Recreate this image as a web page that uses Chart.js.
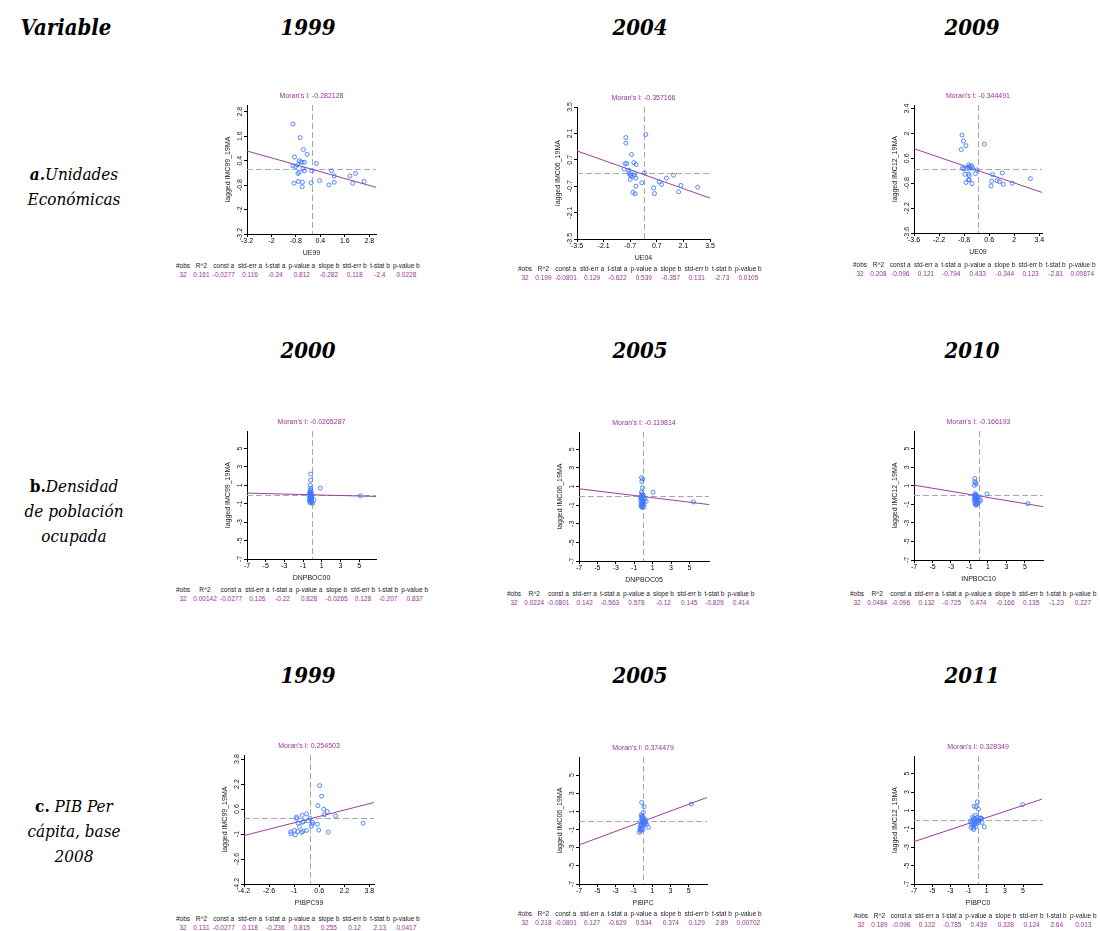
<!DOCTYPE html>
<html>
<head>
<meta charset="utf-8">
<script src="https://cdn.jsdelivr.net/npm/chart.js@4.4.1/dist/chart.umd.min.js"></script>
<style>
  body { margin: 0; background: #fff; width: 1100px; height: 931px; position: relative; overflow: hidden; font-family: "Liberation Sans", Arial, sans-serif; }
  .hd { position: absolute; font-family: "DejaVu Serif Condensed", "DejaVu Serif", serif; font-stretch: condensed; font-weight: bold; font-style: italic; font-size: 22px; transform: translate(-50%, -50%); white-space: nowrap; color: #000; }
  .rl { position: absolute; left: 18px; width: 112px; text-align: center; font-family: "DejaVu Serif Condensed", "DejaVu Serif", serif; font-stretch: condensed; font-style: italic; font-size: 17px; line-height: 25px; color: #000; }
  .rl b.up { font-style: normal; }
  canvas { position: absolute; }
  table.st { position: absolute; border-collapse: collapse; font-size: 6.5px; line-height: 9px; }
  table.st td { padding: 0 1.6px; text-align: center; white-space: nowrap; }
  table.st tr.h td { color: #222; }
  table.st tr.v td { color: #993399; }
</style>
</head>
<body>
<script>
// column / row headings
const colTitle = "Variable";
const rowYears = [["1999", "2004", "2009"], ["2000", "2005", "2010"], ["1999", "2005", "2011"]];

// regression table
const statsHeader = ["#obs", "R^2", "const a", "std-err a", "t-stat a", "p-value a", "slope b", "std-err b", "t-stat b", "p-value b"];
const ue99Stats  = ["32", "0.161", "-0.0277", "0.116", "-0.24", "0.812", "-0.282", "0.118", "-2.4", "0.0228"];
const ue04Stats  = ["32", "0.199", "-0.0801", "0.129", "-0.622", "0.539", "-0.357", "0.131", "-2.73", "0.0105"];
const ue09Stats  = ["32", "0.208", "-0.096", "0.121", "-0.794", "0.433", "-0.344", "0.123", "-2.81", "0.00874"];
const dn00Stats  = ["32", "0.00142", "-0.0277", "0.126", "-0.22", "0.828", "-0.0265", "0.128", "-0.207", "0.837"];
const dn05Stats  = ["32", "0.0224", "-0.0801", "0.142", "-0.563", "0.578", "-0.12", "0.145", "-0.829", "0.414"];
const dn10Stats  = ["32", "0.0484", "-0.096", "0.132", "-0.725", "0.474", "-0.166", "0.135", "-1.23", "0.227"];
const pib99Stats = ["32", "0.131", "-0.0277", "0.118", "-0.236", "0.815", "0.255", "0.12", "2.13", "0.0417"];
const pib05Stats = ["32", "0.218", "-0.0801", "0.127", "-0.629", "0.534", "0.374", "0.129", "2.89", "0.00702"];
const pib11Stats = ["32", "0.189", "-0.096", "0.122", "-0.785", "0.439", "0.328", "0.124", "2.64", "0.013"];

const moranI = ["-0.282128", "-0.357166", "-0.344491", "-0.0265287", "-0.119814", "-0.166193", "0.254503", "0.374479", "0.328349"];
const xLabels = ["UE99", "UE04", "UE09", "DNPBOC00", "DNPBOC05", "INPBOC10", "PIBPC99", "PIBPC", "PIBPC0"];
const yLabels = ["lagged IMC99_19MA", "lagged IMC06_19MA", "lagged IMC12_19MA"];

// tick values
const ticksUE99 = [-3.2, -2, -0.8, 0.4, 1.6, 2.8];
const ticksUE04 = [-3.5, -2.1, -0.7, 0.7, 2.1, 3.5];
const ticksUE09 = [-3.6, -2.2, -0.8, 0.6, 2, 3.4];
const ticksWide = [-7, -5, -3, -1, 1, 3, 5];
const ticksPIB99 = [-4.2, -2.6, -1, 0.6, 2.2, 3.8];

// standardized variable (x) and its spatial lag (y), 32 municipalities each
const ue99X = [-0.95, -0.59, -0.43, -0.25, -0.87, -0.64, -0.56, -0.49, -0.38, -0.72, -0.94, -0.81, 0.21, -0.45, -0.38, -0.02, -0.64, -0.70, 0.95, 1.08, 1.85, 2.13, 0.36, -0.68, -0.48, -0.89, -0.05, 1.08, 1.99, 2.55, 0.82, -0.49];
const ue99Y = [2.20, 1.53, 0.94, 0.71, 0.58, 0.40, 0.34, 0.32, 0.32, 0.19, 0.14, 0.11, 0.26, 0.00, -0.10, -0.10, -0.17, -0.23, -0.10, -0.35, -0.35, -0.23, -0.58, -0.62, -0.66, -0.71, -0.69, -0.66, -0.71, -0.62, -0.79, -0.88];

const ue04X = [-0.93, -0.93, 0.12, -0.63, -0.51, -0.39, -0.97, -0.88, -1.02, -0.77, -0.76, -0.67, -0.46, -0.49, -0.40, -0.70, -0.09, 0.05, -0.40, -0.55, -0.44, 0.53, 0.58, 0.83, 0.95, 1.21, 1.58, 1.97, 1.85, 2.85, -0.72, -0.62];
const ue04Y = [1.88, 1.58, 2.04, 0.98, 0.55, 0.45, 0.50, 0.50, 0.20, 0.15, 0.01, -0.12, -0.01, -0.12, -0.27, -0.34, -0.52, 0.01, -0.70, -1.03, -1.10, -0.79, -1.09, -0.47, -0.61, -0.27, -0.12, -0.66, -1.00, -0.75, -0.08, -0.20];

const ue09X = [-0.92, -0.84, -0.70, -0.96, 0.33, -0.90, -0.81, -0.55, -0.45, -0.38, -0.55, -0.49, -0.08, -0.75, -0.55, -0.51, -0.17, -0.57, -0.51, -0.70, -0.36, 0.79, 0.74, 1.04, 1.17, 1.33, 1.39, 0.70, 1.89, 2.90, -0.66, -0.32];
const ue09Y = [1.91, 1.57, 1.31, 1.09, 1.40, 0.04, 0.00, 0.23, 0.15, 0.19, 0.10, 0.04, -0.05, -0.30, -0.28, -0.37, -0.26, -0.61, -0.61, -0.76, -0.82, -0.31, -0.69, -0.65, -0.71, -0.22, -0.86, -0.95, -0.80, -0.54, 0.04, 0.04];

const dn00X = [-0.19, -0.19, -0.23, -0.19, 0.84, -0.23, -0.19, -0.23, -0.19, -0.23, -0.16, -0.27, -0.05, 0.02, 0.16, -0.12, -0.09, -0.27, -0.34, -0.20, 5.14, -0.15, -0.28, -0.10, -0.31, -0.08, -0.25, -0.17, -0.12, -0.30, -0.06, -0.22];
const dn00Y = [2.22, 1.57, 1.02, 0.66, 0.70, 0.41, 0.19, 0.01, -0.17, -0.35, -0.53, -0.71, -0.82, -0.96, -0.60, -0.35, 0.05, -0.06, -0.60, -0.78, -0.13, 0.30, 0.12, -0.22, -0.28, -0.48, -0.90, 0.50, -0.65, 0.20, -0.15, -0.42];

const dn05X = [-0.21, -0.06, -0.17, -0.10, 1.06, 5.43, -0.20, -0.12, -0.25, -0.05, -0.18, 0.00, -0.22, -0.10, -0.28, 0.05, -0.15, -0.24, -0.08, -0.19, 0.02, -0.27, -0.12, -0.21, 0.08, -0.16, -0.05, 0.15, 0.30, -0.30, -0.02, -0.15];
const dn05Y = [1.96, 1.81, 1.53, 0.88, 0.38, -0.66, 0.40, 0.20, 0.05, -0.05, -0.15, -0.25, -0.32, -0.40, -0.50, -0.55, -0.62, -0.72, -0.80, -0.88, -0.95, -1.00, -1.08, -1.15, -1.20, -1.25, -0.70, -0.35, -0.60, -0.20, 0.10, -1.00];

const dn10X = [-0.42, -0.35, -0.28, -0.49, -0.42, 0.88, 5.32, -0.40, -0.30, -0.45, -0.35, -0.25, -0.42, -0.30, -0.20, -0.38, -0.10, -0.28, -0.45, -0.15, -0.33, -0.05, -0.40, -0.22, -0.30, 0.10, 0.20, -0.12, -0.50, -0.35, -0.18, -0.26];
const dn10Y = [1.79, 1.32, 1.18, 1.04, 1.43, 0.11, -0.93, 0.15, 0.05, -0.05, -0.12, -0.20, -0.28, -0.35, -0.42, -0.50, -0.55, -0.62, -0.70, -0.75, -0.82, -0.88, -0.95, -1.02, -1.10, -0.50, -0.60, -0.30, -0.40, -0.05, -0.90, 0.00];

const pib99X = [0.63, 0.76, 0.52, 0.89, 1.12, 0.93, 1.65, 3.40, 1.18, 0.57, 0.48, 0.16, 0.01, 0.10, -0.20, -0.48, -0.84, -0.84, -0.75, -0.65, -0.46, -0.39, -0.43, -0.22, -0.52, -0.97, -1.22, -1.20, -0.92, -0.77, 0.18, -0.09];
const pib99Y = [2.10, 1.42, 0.82, 0.59, 0.44, 0.23, 0.16, -0.31, -0.88, -0.75, -0.37, -0.37, 0.01, -0.50, 0.29, 0.20, 0.08, -0.01, -0.31, -0.52, -0.24, -0.20, -0.82, -0.77, -0.90, -0.77, -0.86, -0.99, -1.05, -0.84, -0.24, -0.16];

const pib05X = [-0.15, 0.11, 0.03, 5.29, -0.07, -0.15, 0.22, 0.32, 0.58, 0.40, -0.33, -0.26, -0.40, 0.03, -0.18, -0.04, 0.14, -0.07, 0.25, -0.29, -0.20, -0.10, 0.05, -0.25, 0.10, -0.12, 0.00, -0.22, 0.18, -0.30, 0.30, -0.05];
const pib05Y = [1.99, 1.51, 0.89, 1.81, 0.49, 0.34, 0.16, -0.03, -0.76, -0.43, -0.94, -1.17, -1.31, -0.21, -0.39, -0.58, -0.32, -0.06, -0.21, -0.69, 0.60, 0.20, 0.05, -0.10, -0.45, -0.80, -1.00, -0.55, -0.10, -1.05, -0.25, 0.40];

const pib11X = [-0.03, -0.39, -0.17, 0.08, 4.96, 0.74, -0.47, -0.32, -0.06, 0.27, 0.45, -0.54, -0.28, -0.10, -0.65, -0.39, -0.17, -0.47, 0.49, -0.80, 0.05, -0.61, -0.36, -0.10, -0.54, -0.25, 0.12, -0.43, -0.72, 0.23, 0.34, -0.21];
const pib11Y = [1.93, 1.46, 1.39, 1.13, 1.64, -0.78, 0.12, 0.12, 0.23, 0.12, 0.12, -0.17, -0.31, -0.42, -0.60, -0.67, -0.78, -0.89, -0.31, -0.17, -0.06, -0.31, -0.53, -0.17, 0.30, -0.02, -0.31, -1.07, -0.85, -0.10, 0.19, 0.48];

// axis extents
const extUE99 = [-3.2, 3.13];
const extUE04 = [-3.5, 3.5];
const extUE09x = [-3.6, 3.55], extUE09y = [-3.6, 3.6];
const extDN00x = [-7, 6.8], extDN00y = [-7, 6.9];
const extDN05x = [-7, 7.13], extDN05y = [-7, 6.86];
const extDN10x = [-7, 6.95], extDN10y = [-7, 6.9];
const extPIB99x = [-4.2, 4.1], extPIB99y = [-4.2, 4.06];
const extPIB05 = [-7, 7];
const extPIB11x = [-7, 7.09], extPIB11y = [-7, 6.92];

// layout: plot box [left, top, width, height] and table [left, headerCenterY]
const panels = [
  { xs: ue99X,  ys: ue99Y,  stats: ue99Stats,  k: 0, col: 0, xt: ticksUE99, yt: ticksUE99, xe: extUE99,  ye: extUE99,  box: [247, 105, 129, 129], tab: [176, 265] },
  { xs: ue04X,  ys: ue04Y,  stats: ue04Stats,  k: 1, col: 1, xt: ticksUE04, yt: ticksUE04, xe: extUE04,  ye: extUE04,  box: [577, 107, 133, 132], tab: [518, 268] },
  { xs: ue09X,  ys: ue09Y,  stats: ue09Stats,  k: 2, col: 2, xt: ticksUE09, yt: ticksUE09, xe: extUE09x, ye: extUE09y, box: [914, 105, 128, 128], tab: [853, 264] },
  { xs: dn00X,  ys: dn00Y,  stats: dn00Stats,  k: 3, col: 0, xt: ticksWide, yt: ticksWide, xe: extDN00x, ye: extDN00y, box: [247, 431, 129, 128], tab: [176, 589] },
  { xs: dn05X,  ys: dn05Y,  stats: dn05Stats,  k: 4, col: 1, xt: ticksWide, yt: ticksWide, xe: extDN05x, ye: extDN05y, box: [579, 432, 130, 129], tab: [507, 593] },
  { xs: dn10X,  ys: dn10Y,  stats: dn10Stats,  k: 5, col: 2, xt: ticksWide, yt: ticksWide, xe: extDN10x, ye: extDN10y, box: [914, 431, 129, 129], tab: [850, 593] },
  { xs: pib99X, ys: pib99Y, stats: pib99Stats, k: 6, col: 0, xt: ticksPIB99, yt: ticksPIB99, xe: extPIB99x, ye: extPIB99y, box: [244, 755, 130, 129], tab: [176, 918] },
  { xs: pib05X, ys: pib05Y, stats: pib05Stats, k: 7, col: 1, xt: ticksWide, yt: ticksWide, xe: extPIB05, ye: extPIB05, box: [579, 757, 128, 127], tab: [518, 913] },
  { xs: pib11X, ys: pib11Y, stats: pib11Stats, k: 8, col: 2, xt: ticksWide, yt: ticksWide, xe: extPIB11x, ye: extPIB11y, box: [914, 756, 128, 128], tab: [854, 915] }
];

const PAD_L = 40, PAD_T = 20, PAD_R = 8, PAD_B = 26;
const FONT = '"Liberation Sans", Arial, sans-serif';

// headings
function addDiv(cls, html, x, y) {
  const d = document.createElement("div");
  d.className = cls;
  d.innerHTML = html;
  d.style.left = x + "px";
  d.style.top = y + "px";
  document.body.appendChild(d);
  return d;
}
addDiv("hd", colTitle, 66, 27);
const headRows = [27, 350, 675];
const headCols = [308, 640, 972];
rowYears.forEach((yrs, r) => yrs.forEach((t, c) => addDiv("hd", t, headCols[c], headRows[r])));

addDiv("rl", "<b>a.</b>Unidades<br>Económicas", 18, 162);
addDiv("rl", "<b class='up'>b.</b>Densidad<br>de población<br>ocupada", 18, 474);
addDiv("rl", "<b class='up'>c.</b> PIB Per<br>cápita, base<br>2008", 18, 794);

// dashed reference lines, title, rotated y labels
const moranPlugin = {
  id: "moran",
  beforeDatasetsDraw(chart, args, opts) {
    const { ctx, chartArea: a, scales: { x, y } } = chart;
    const x0 = Math.round(x.getPixelForValue(0)) + 0.5;
    const y0 = Math.round(y.getPixelForValue(0)) + 0.5;
    ctx.save();
    ctx.strokeStyle = "#a8a8a8";
    ctx.lineWidth = 1;
    ctx.setLineDash([6, 3]);
    ctx.beginPath();
    ctx.moveTo(x0, a.top); ctx.lineTo(x0, a.bottom);
    ctx.moveTo(a.left, y0); ctx.lineTo(a.right, y0);
    ctx.stroke();
    ctx.restore();
  },
  afterDraw(chart, args, opts) {
    const { ctx, chartArea: a, scales: { y } } = chart;
    const cx = (a.left + a.right) / 2;
    ctx.save();
    ctx.font = "7px " + FONT;
    ctx.textAlign = "center";
    ctx.textBaseline = "middle";
    ctx.fillStyle = "#993399";
    ctx.fillText(opts.title, cx, a.top - 9);
    ctx.fillStyle = "#222";
    ctx.fillText(opts.xTitle, cx, a.bottom + 19);
    y.ticks.forEach(t => {
      ctx.save();
      ctx.translate(a.left - 7, y.getPixelForValue(t.value));
      ctx.rotate(-Math.PI / 2);
      ctx.fillText(String(t.value), 0, 0);
      ctx.restore();
    });
    ctx.translate(a.left - 19, (a.top + a.bottom) / 2);
    ctx.rotate(-Math.PI / 2);
    ctx.fillText(opts.yTitle, 0, 0);
    ctx.restore();
  }
};

panels.forEach(p => {
  const [bl, bt, bw, bh] = p.box;
  const cv = document.createElement("canvas");
  const W = bw + PAD_L + PAD_R, H = bh + PAD_T + PAD_B;
  cv.width = W; cv.height = H;
  cv.style.width = W + "px"; cv.style.height = H + "px";
  cv.style.left = (bl - PAD_L) + "px";
  cv.style.top = (bt - PAD_T) + "px";
  document.body.appendChild(cv);

  const a = Number(p.stats[2]), b = Number(p.stats[6]);
  const fit = [{ x: p.xe[0], y: a + b * p.xe[0] }, { x: p.xe[1], y: a + b * p.xe[1] }];

  new Chart(cv.getContext("2d"), {
    type: "scatter",
    data: {
      datasets: [
        {
          type: "scatter",
          data: p.xs.map((v, i) => ({ x: v, y: p.ys[i] })),
          pointStyle: "circle",
          pointRadius: 2,
          borderColor: "#3f78ff",
          backgroundColor: "rgba(0,0,0,0)",
          borderWidth: 0.9
        },
        {
          type: "line",
          data: fit,
          borderColor: "#9b3f9b",
          borderWidth: 1,
          pointRadius: 0,
          fill: false
        }
      ]
    },
    options: {
      responsive: false,
      animation: false,
      devicePixelRatio: 1,
      layout: { autoPadding: false, padding: { left: 0, top: PAD_T, right: PAD_R, bottom: 0 } },
      plugins: {
        legend: { display: false },
        tooltip: { enabled: false },
        moran: { title: "Moran's I: " + moranI[p.k], xTitle: xLabels[p.k], yTitle: yLabels[p.col] }
      },
      scales: {
        x: {
          type: "linear",
          min: p.xe[0], max: p.xe[1],
          afterBuildTicks: s => { s.ticks = p.xt.map(v => ({ value: v })); },
          afterFit: s => { s.height = PAD_B; },
          ticks: { font: { family: FONT, size: 7 }, color: "#000", padding: 0, maxRotation: 0, autoSkip: false, callback: v => String(v) },
          grid: { drawOnChartArea: false, drawTicks: true, tickLength: 3, color: "#000" },
          border: { display: true, color: "#000", width: 1 }
        },
        y: {
          type: "linear",
          min: p.ye[0], max: p.ye[1],
          afterBuildTicks: s => { s.ticks = p.yt.map(v => ({ value: v })); },
          afterFit: s => { s.width = PAD_L; },
          ticks: { display: false },
          grid: { drawOnChartArea: false, drawTicks: true, tickLength: 3, color: "#000" },
          border: { display: true, color: "#000", width: 1 }
        }
      }
    },
    plugins: [moranPlugin]
  });

  // statistics table under the plot
  const tb = document.createElement("table");
  tb.className = "st";
  tb.style.left = (p.tab[0] - 1.6) + "px";
  tb.style.top = (p.tab[1] - 4.5) + "px";
  const rh = tb.insertRow(); rh.className = "h";
  statsHeader.forEach(h => { rh.insertCell().textContent = h; });
  const rv = tb.insertRow(); rv.className = "v";
  p.stats.forEach(v => { rv.insertCell().textContent = v; });
  document.body.appendChild(tb);
});
</script>
</body>
</html>
